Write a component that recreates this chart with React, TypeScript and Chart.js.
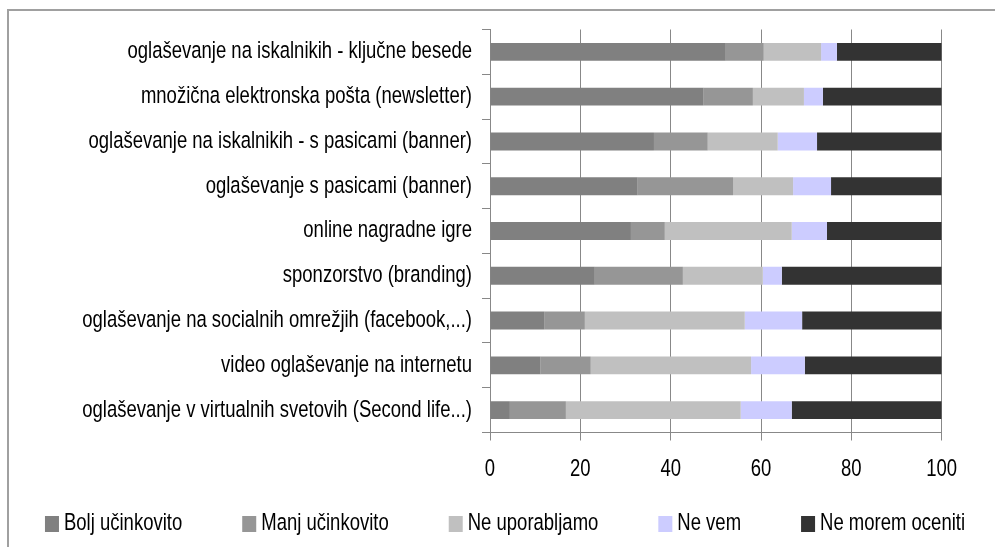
import React, { useEffect, useRef } from "react";
import { Chart, registerables } from "chart.js";

Chart.register(...registerables);

const categories = [
  "oglaševanje na iskalnikih - ključne besede",
  "množična elektronska pošta (newsletter)",
  "oglaševanje na iskalnikih - s pasicami (banner)",
  "oglaševanje s pasicami (banner)",
  "online nagradne igre",
  "sponzorstvo (branding)",
  "oglaševanje na socialnih omrežjih (facebook,...)",
  "video oglaševanje na internetu",
  "oglaševanje v virtualnih svetovih (Second life...)",
];

const boljUcinkovito = [52.2, 47.3, 36.3, 32.7, 31.2, 23.2, 12.1, 11.2, 4.4];
const manjUcinkovito = [8.4, 10.9, 11.9, 21.1, 7.5, 19.5, 8.9, 11.1, 12.4];
const neUporabljamo = [12.7, 11.3, 15.5, 13.3, 28.1, 17.7, 35.4, 35.5, 38.7];
const neVem = [3.5, 4.2, 8.7, 8.4, 7.8, 4.2, 12.7, 11.9, 11.3];
const neMoremOceniti = [23.2, 26.3, 27.6, 24.5, 25.4, 35.4, 30.9, 30.3, 33.2];

const seriesNames = ["Bolj učinkovito", "Manj učinkovito", "Ne uporabljamo", "Ne vem", "Ne morem oceniti"];
const seriesColors = ["#808080", "#969696", "#C0C0C0", "#CCCCFF", "#333333"];

const xMin = 0;
const xMax = 100;
const xStep = 20;

const FAMILY = "'Liberation Sans', Arial, sans-serif";
const FONT_SIZE = 18.5;
const TEXT_VSCALE = 1.27; // the source text is drawn tall and narrow

// Stretch text vertically around its anchor point (textBaseline is "middle").
const tallText = {
  id: "tallText",
  beforeDraw(chart: any) {
    const ctx = chart.ctx as any;
    if (ctx.__tallPatched) return;
    const orig = ctx.fillText;
    ctx.fillText = function (text: string, x: number, y: number, maxWidth?: number) {
      this.save();
      this.translate(x, y);
      this.scale(1, TEXT_VSCALE);
      if (maxWidth === undefined) orig.call(this, text, 0, 0);
      else orig.call(this, text, 0, 0, maxWidth);
      this.restore();
    };
    ctx.__tallPatched = true;
  },
};

// Custom bottom legend drawn on the canvas (Chart.js legend ties vertical
// and horizontal padding together, so it is drawn here instead).
const bottomLegend = {
  id: "bottomLegend",
  afterDraw(chart: any, _args: any, opts: any) {
    const ctx = chart.ctx as CanvasRenderingContext2D;
    const items = chart.data.datasets.map((ds: any) => ({
      text: String(ds.label),
      color: String(ds.backgroundColor),
    }));
    ctx.save();
    ctx.font = `${opts.fontSize}px ${opts.family}`;
    ctx.textBaseline = "middle";
    ctx.textAlign = "left";
    const widths = items.map((it: any) => opts.boxW + opts.textGap + ctx.measureText(it.text).width);
    const total = widths.reduce((a: number, b: number) => a + b, 0) + opts.itemGap * (items.length - 1);
    let x = opts.centerX - total / 2;
    items.forEach((it: any, i: number) => {
      ctx.fillStyle = it.color;
      ctx.fillRect(x, opts.centerY - opts.boxH / 2, opts.boxW, opts.boxH);
      ctx.fillStyle = "#000";
      ctx.fillText(it.text, x + opts.boxW + opts.textGap, opts.centerY);
      x += widths[i] + opts.itemGap;
    });
    ctx.restore();
  },
};

export default function App() {
  const canvasRef = useRef<HTMLCanvasElement | null>(null);

  useEffect(() => {
    const canvas = canvasRef.current;
    if (!canvas) return;
    const font = { family: FAMILY, size: FONT_SIZE };
    const gridColor = "#888888";

    const allSeries = [boljUcinkovito, manjUcinkovito, neUporabljamo, neVem, neMoremOceniti];

    const chart = new Chart(canvas, {
      type: "bar",
      data: {
        labels: categories,
        datasets: allSeries.map((d, i) => ({
          label: seriesNames[i],
          data: d,
          backgroundColor: seriesColors[i],
          borderWidth: 0,
          barPercentage: 0.8,
          categoryPercentage: 0.5,
        })),
      },
      plugins: [tallText, bottomLegend],
      options: {
        indexAxis: "y",
        responsive: false,
        animation: false,
        layout: { padding: { left: 0, right: 53.3, top: 29.5, bottom: 62.5 } },
        plugins: {
          tooltip: { enabled: false },
          legend: { display: false },
          bottomLegend: {
            family: FAMILY,
            fontSize: FONT_SIZE,
            centerX: 505,
            centerY: 524,
            boxW: 14,
            boxH: 16,
            textGap: 5,
            itemGap: 60,
          },
        },
        scales: {
          x: {
            type: "linear",
            stacked: true,
            min: xMin,
            max: xMax,
            ticks: { stepSize: xStep, font, color: "#000", padding: 18 },
            grid: {
              color: gridColor,
              lineWidth: 1,
              drawOnChartArea: true,
              drawTicks: true,
              tickLength: 8,
              tickColor: gridColor,
            },
            border: { display: true, color: gridColor, width: 1 },
            afterFit: (scale: any) => {
              scale.height = 52;
            },
          },
          y: {
            type: "category",
            stacked: true,
            ticks: { font, color: "#000", padding: 10, autoSkip: false },
            grid: {
              offset: true,
              color: gridColor,
              drawOnChartArea: false,
              drawTicks: true,
              tickLength: 8,
            },
            border: { display: true, color: gridColor, width: 1 },
            afterFit: (scale: any) => {
              scale.width = 490;
            },
          },
        },
      },
    } as any);

    return () => chart.destroy();
  }, []);

  return (
    <div>
      <div
        style={{
          position: "fixed",
          left: 7,
          top: 9,
          width: 1200,
          height: 800,
          borderLeft: "2px solid #a0a0a0",
          borderTop: "2px solid #a0a0a0",
          boxSizing: "border-box",
        }}
      />
      <canvas
        ref={canvasRef}
        width={995}
        height={547}
        style={{ position: "fixed", left: 0, top: 0, width: 995, height: 547 }}
      />
    </div>
  );
}
